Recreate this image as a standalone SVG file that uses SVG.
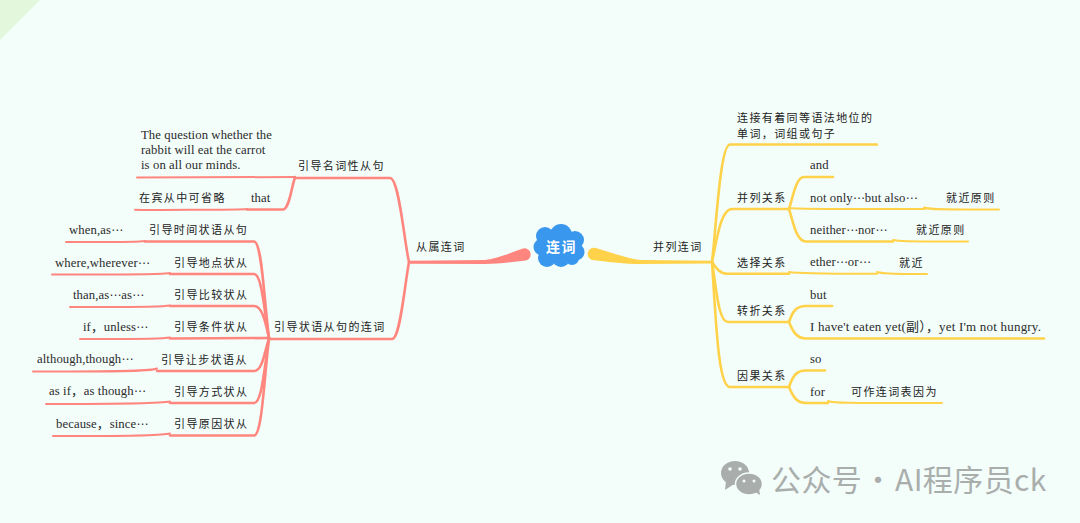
<svg xmlns="http://www.w3.org/2000/svg" width="1080" height="523" viewBox="0 0 1080 523">
<style>
text{font-family:"Liberation Serif","Noto Sans CJK SC",serif;font-size:12.7px;fill:#2b2b2b;letter-spacing:.1px}
.c{font-size:11px;letter-spacing:1.4px;font-family:"Noto Sans CJK SC",sans-serif;fill:#222}
.d{font-family:"DejaVu Sans",sans-serif;font-size:12px;letter-spacing:0}
.r path,.y path{fill:none;stroke-width:2;stroke-linecap:round;stroke-linejoin:round}
.r path{stroke:#ff867e}.y path{stroke:#ffd24a}
.r path.f{fill:#ff867e;stroke:none}.y path.f{fill:#ffd24a;stroke:none}
.t{stroke-width:2.600!important}
</style>
<rect width="1080" height="523" fill="#f3fdfa"/>
<polygon points="0,0 40,0 0,40" fill="#e2f7dc"/>
<g id="connectors">
<g class="r">
<path class="f" d="M410 260.800L485 260C500 258 512 252 523 248.500A6 6 0 0 1 526 260.500C512 262 498 264 485 264L410 263.800Z"/>
<path class="t" d="M409 262C404 240 399 178 390 178L295 178"/>
<path class="t" d="M409 262C404 290 400 339 392 339L270 339"/>
<path d="M295 177L137 177.500"/>
<path class="t" d="M295 177C291 190 289 209 283 209.500L247 209.500"/>
<path d="M247 209C240 210 140 210 135 209.700"/>
<path class="t" d="M269 338C264 300 262 241.500 254 241.500L145 241.500"/>
<path d="M145 241C136 242.500 80 242 66 242"/>
<path class="t" d="M269 338C264 310 262 274 254 274L170 274"/>
<path d="M170 273C160 275 90 274.500 52 274.500"/>
<path class="t" d="M269 338C265 320 262 306 254 306L170 306"/>
<path d="M170 305.500C160 307.500 100 307 70 307"/>
<path class="t" d="M269 338L170 338.500"/>
<path d="M170 337.500C160 339.500 100 339 80 339"/>
<path class="t" d="M269 338C264 355 262 371 254 371L157 371"/>
<path d="M157 368.500C150 372 90 371.500 33 371.500"/>
<path class="t" d="M269 338C264 370 262 403 254 403L170 403"/>
<path d="M170 401.500C160 404 100 404 46 404"/>
<path class="t" d="M269 338C264 380 262 435.500 254 435.500L170 435.500"/>
<path d="M170 433.500C160 436.500 100 436 53 436"/>
</g>
<g class="y">
<path class="f" d="M712 260.800L640 260C625 258 610 252 596 248A6 6 0 0 0 592 260C610 262 625 264 640 264L712 263.500Z"/>
<path class="t" d="M712 262C716 230 720 144.500 730 144.500L877 144.500"/>
<path class="t" d="M712 262C716 245 720 209 732 209L789 209"/>
<path class="t" d="M712 262C716 268 720 274 728 273.800L789 273.800"/>
<path class="t" d="M712 262C716 285 718 322 728 322L789 322"/>
<path class="t" d="M712 262C716 320 718 387 730 387L789 387"/>
<path class="t" d="M789 209C793 197 796 177 804 177L833 177"/>
<path class="t" d="M789 209C793 221 796 241.500 806 241.500L893 241.500"/>
<path d="M789 208C800 209.500 900 209 925 209"/>
<path d="M924 207.500C930 210 950 209.500 999 209.500"/>
<path d="M893 240C900 242 930 241.500 968 241.500"/>
<path d="M789 272C800 274 850 273.800 877 273.800"/>
<path d="M877 272C885 274.500 900 274 927 274"/>
<path class="t" d="M789 322C793 310 797 306 806 306L832 306"/>
<path class="t" d="M789 322C793 332 797 338.500 806 338.500L1044 338.500"/>
<path class="t" d="M789 387C793 375 797 370.500 806 370.500L825 370.500"/>
<path class="t" d="M789 387C793 397 797 403 806 403L828 403"/>
<path d="M828 401C835 403.500 860 403 942 403"/>
</g>
</g>
<g id="root"><g fill="#3a97ee"><circle cx="559" cy="246" r="18"/><circle cx="561" cy="235" r="11"/><circle cx="575" cy="240" r="9"/><circle cx="545" cy="236" r="9"/><circle cx="542" cy="247" r="8.500"/><circle cx="576" cy="252" r="8.500"/><circle cx="547" cy="258" r="9"/><circle cx="561" cy="258" r="9"/><circle cx="572" cy="258" r="7"/></g>
<text x="546" y="252" style="font-size:14px;font-weight:700;letter-spacing:1.500px;fill:#fff;font-family:'Noto Sans CJK SC',sans-serif">连词</text></g>
<g id="n-subordinate"><text class="c" x="416" y="251">从属连词</text></g>
<g id="n-noun"><text class="c" x="298" y="170">引导名词性从句</text></g>
<g id="n-example"><text x="141" y="139">The question whether the</text><text x="141" y="154">rabbit will eat the carrot</text><text x="141" y="169">is on all our minds.</text></g>
<g id="n-that"><text x="251" y="202">that</text></g>
<g id="n-omit"><text class="c" x="139" y="202">在宾从中可省略</text></g>
<g id="n-adv"><text class="c" x="274" y="331">引导状语从句的连词</text></g>
<g id="n-time"><text class="c" x="149" y="234">引导时间状语从句</text></g>
<g id="n-time-e"><text x="69" y="234">when,as<tspan class="d">⋯</tspan></text></g>
<g id="n-place"><text class="c" x="174" y="267">引导地点状从</text></g>
<g id="n-place-e"><text x="55" y="267">where,wherever<tspan class="d">⋯</tspan></text></g>
<g id="n-comp"><text class="c" x="174" y="299">引导比较状从</text></g>
<g id="n-comp-e"><text x="73" y="299">than,as<tspan class="d">⋯</tspan>as<tspan class="d">⋯</tspan></text></g>
<g id="n-cond"><text class="c" x="174" y="331">引导条件状从</text></g>
<g id="n-cond-e"><text x="83" y="331">if，unless<tspan class="d">⋯</tspan></text></g>
<g id="n-conc"><text class="c" x="161" y="364">引导让步状语从</text></g>
<g id="n-conc-e"><text x="37" y="363">although,though<tspan class="d">⋯</tspan></text></g>
<g id="n-man"><text class="c" x="174" y="396">引导方式状从</text></g>
<g id="n-man-e"><text x="49" y="395">as if，as though<tspan class="d">⋯</tspan></text></g>
<g id="n-cause"><text class="c" x="174" y="428">引导原因状从</text></g>
<g id="n-cause-e"><text x="56" y="428">because，since<tspan class="d">⋯</tspan></text></g>
<g id="n-coord"><text class="c" x="653" y="251">并列连词</text></g>
<g id="n-def"><text class="c" x="737" y="122">连接有着同等语法地位的</text><text class="c" x="737" y="138">单词，词组或句子</text></g>
<g id="n-par"><text class="c" x="737" y="202">并列关系</text></g>
<g id="n-and"><text x="810" y="169">and</text></g>
<g id="n-notonly"><text x="810" y="202">not only<tspan class="d">⋯</tspan>but also<tspan class="d">⋯</tspan></text></g>
<g id="n-near1"><text class="c" x="946" y="202">就近原则</text></g>
<g id="n-neither"><text x="810" y="234">neither<tspan class="d">⋯</tspan>nor<tspan class="d">⋯</tspan></text></g>
<g id="n-near2"><text class="c" x="916" y="234">就近原则</text></g>
<g id="n-alt"><text class="c" x="737" y="267">选择关系</text></g>
<g id="n-ether"><text x="810" y="266">ether<tspan class="d">⋯</tspan>or<tspan class="d">⋯</tspan></text></g>
<g id="n-near3"><text class="c" x="899" y="267">就近</text></g>
<g id="n-adver"><text class="c" x="737" y="315">转折关系</text></g>
<g id="n-but"><text x="810" y="299">but</text></g>
<g id="n-yet"><text x="810" y="331" style="font-size:13px;letter-spacing:.2px">I have't eaten yet(副），yet I'm not hungry.</text></g>
<g id="n-cau"><text class="c" x="737" y="380">因果关系</text></g>
<g id="n-so"><text x="810" y="363">so</text></g>
<g id="n-for"><text x="810" y="396">for</text></g>
<g id="n-for2"><text class="c" x="851" y="396">可作连词表因为</text></g>
<g id="watermark"><g fill="#a9aeac"><ellipse cx="735" cy="473" rx="14" ry="12"/><path d="M726 481L725 490L734 484Z"/><ellipse cx="749" cy="484" rx="13.500" ry="11" stroke="#f3fdfa" stroke-width="1.500"/><path d="M755 492L760 495L759 488Z"/></g><g fill="#f3fdfa"><circle cx="730" cy="469" r="1.800"/><circle cx="740" cy="469" r="1.800"/><circle cx="744" cy="481" r="1.500"/><circle cx="754" cy="481" r="1.500"/></g>
<text y="491" style="font-size:30px;fill:#a9aeac;letter-spacing:.4px;font-family:'Noto Sans CJK SC',sans-serif"><tspan x="771">公众号</tspan><tspan x="863">·</tspan><tspan x="895">AI程序员ck</tspan></text></g>
</svg>
